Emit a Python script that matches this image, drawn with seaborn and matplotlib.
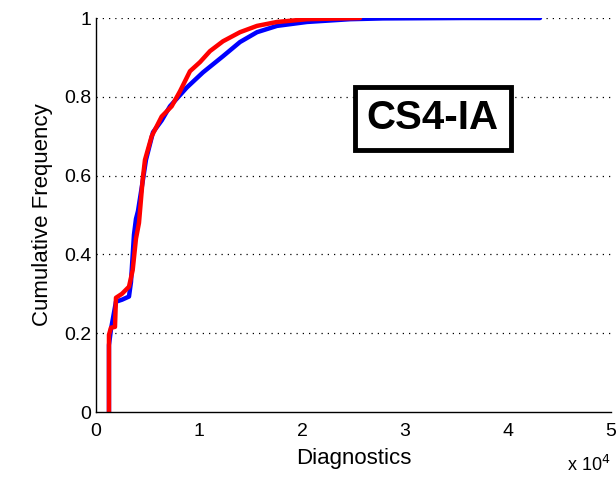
import matplotlib
matplotlib.use("Agg")
import matplotlib.pyplot as plt
import seaborn as sns
import pandas as pd

# valores (Diagnostics, frecuencia acumulada)
azul_x = [1262, 1262, 1359, 1456, 1942, 2524, 3204, 3398, 3689, 3883, 4078, 4563, 4854,
          5534, 6379, 7184, 8835, 10388, 12330, 13981, 15631, 17573, 20485, 24660, 27864,
          35631, 43107]
azul_y = [0.0, 0.17, 0.19, 0.21, 0.28, 0.285, 0.293, 0.33, 0.45, 0.49, 0.51, 0.59, 0.64,
          0.71, 0.74, 0.776, 0.824, 0.862, 0.903, 0.939, 0.964, 0.98, 0.99, 0.997, 0.999,
          1.0, 1.0]
rojo_x = [1262, 1262, 1456, 1845, 1942, 2524, 3204, 3563, 3883, 4175, 4534, 4757, 5408,
          6379, 7350, 8155, 9126, 10097, 11068, 12330, 13981, 15631, 17573, 20485, 25631]
rojo_y = [0.0, 0.196, 0.214, 0.216, 0.29, 0.30, 0.318, 0.36, 0.44, 0.48, 0.59, 0.64, 0.70,
          0.75, 0.776, 0.814, 0.865, 0.888, 0.916, 0.941, 0.964, 0.980, 0.99, 0.997, 1.0]
ticks_x = [0, 10000, 20000, 30000, 40000, 50000]
etiquetas_x = ["0", "1", "2", "3", "4", "5"]
ticks_y = [0, 0.2, 0.4, 0.6, 0.8, 1]
etiquetas_y = ["0", "0.2", "0.4", "0.6", "0.8", "1"]

sns.set_style("white")
plt.rcParams["font.family"] = ["Liberation Sans", "DejaVu Sans"]
plt.rcParams["text.color"] = "black"
plt.rcParams["axes.labelcolor"] = "black"

fig = plt.figure(figsize=(6.16, 4.87), dpi=100)
ax = fig.add_axes([0.1558, 0.154, 0.8361, 0.809])

for y in ticks_y[1:]:
    ax.axhline(y, color="black", lw=0.9, ls=(0, (1, 4)), zorder=0)

sns.lineplot(x=azul_x, y=azul_y, sort=False, estimator=None, color="#0000ff", lw=3.2, ax=ax)
sns.lineplot(x=rojo_x, y=rojo_y, sort=False, estimator=None, color="#ff0000", lw=3.2, ax=ax)

ax.set_xlim(0, 50000)
ax.set_ylim(0, 1)
ax.set_xticks(ticks_x)
ax.set_xticklabels(etiquetas_x)
ax.set_yticks(ticks_y)
ax.set_yticklabels(etiquetas_y)
ax.tick_params(direction="in", length=5, width=1, labelsize=14, colors="black")
ax.tick_params(axis="x", pad=8)
sns.despine(ax=ax)
for s in ["left", "bottom"]:
    ax.spines[s].set_color("black")
    ax.spines[s].set_linewidth(1)

ax.set_xlabel("Diagnostics", fontsize=16, labelpad=6)
ax.set_ylabel("Cumulative Frequency", fontsize=16, labelpad=8)
fig.text(0.955, 0.032, r"x 10$^{4}$", fontsize=13, ha="center")

ax.text(32700, 0.745, "CS4-IA", fontsize=29, fontweight="bold", color="black",
        ha="center", va="center",
        bbox=dict(boxstyle="square,pad=0.3", fc="white", ec="black", lw=3.5))

plt.savefig("out.png", dpi=100)
plt.close()
